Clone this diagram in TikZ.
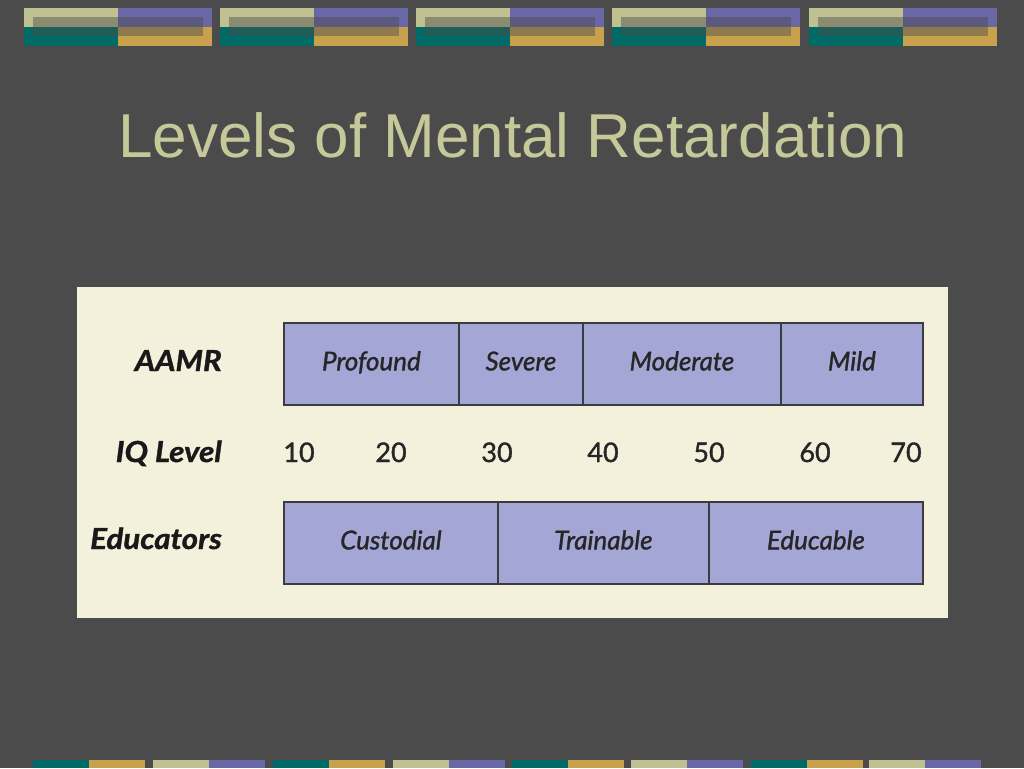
\documentclass[tikz,border=0pt]{standalone}
\usepackage{fontspec}
\setmainfont{Liberation Sans}
\newfontfamily\gill[FakeBold=1.3]{Lato}
\newfontfamily\gillbold[FakeBold=1.2,FakeStretch=1.08]{Lato}
\definecolor{bg}{HTML}{4B4B4B}
\definecolor{khaki}{HTML}{BFC191}
\definecolor{purp}{HTML}{6A67A6}
\definecolor{teal2}{HTML}{006A66}
\definecolor{gold}{HTML}{C7A14B}
\definecolor{panel}{HTML}{F3F1DC}
\definecolor{cellfill}{HTML}{A4A6D6}
\definecolor{cellline}{HTML}{3C3C40}
\definecolor{titlec}{HTML}{C5C899}
\begin{document}
\begin{tikzpicture}[x=1pt,y=-1pt,
 cell/.style={draw=cellline, line width=1.8pt, fill=cellfill, anchor=north west, inner sep=0pt, minimum height=82pt, text height=18pt, text depth=5pt, font=\gill\itshape\fontsize{26}{30}\selectfont, text=black!85},
 rowlabel/.style={anchor=base east, inner sep=0pt, text=black!90, font=\gillbold\bfseries\itshape\fontsize{29}{32}\selectfont},
 iqnum/.style={anchor=base, inner sep=0pt, text=black!85, font=\gill\fontsize{27}{32}\selectfont}]
\fill[bg] (0,0) rectangle (1024,768);
\useasboundingbox (0,0) rectangle (1024,768);
% top decoration
\foreach \x in {24,220,416,612,809} {
  \fill[khaki] (\x,8) rectangle ++(94,19);
  \fill[teal2] (\x,27) rectangle ++(94,19);
  \fill[purp] (\x+94,8) rectangle ++(94,19);
  \fill[gold] (\x+94,27) rectangle ++(94,19);
  \fill[bg, opacity=0.45] (\x+9,17) rectangle ++(170,19);
}
% bottom bar
\foreach \x in {33,273,512,751} {
  \fill[teal2] (\x,760) rectangle ++(56,8);
  \fill[gold] (\x+56,760) rectangle ++(56,8);
}
\foreach \x in {153,393,631,869} {
  \fill[khaki] (\x,760) rectangle ++(56,8);
  \fill[purp] (\x+56,760) rectangle ++(56,8);
}
% title
\node[anchor=base, inner sep=0pt, text=titlec, font=\fontsize{62}{70}\selectfont] (title) at (513,157) {Levels of Mental Retardation};
% panel
\node[fill=panel, anchor=north west, inner sep=0pt, minimum width=871pt, minimum height=331pt] (panel) at (77,287) {};
% row labels
\node[rowlabel] (laamr) at (222,371) {AAMR};
\node[rowlabel] (liq) at (222,462) {IQ Level};
\node[rowlabel] (ledu) at (222,549) {Educators};
% AAMR cells
\node[cell, minimum width=175pt] (prof) at (283,322) {Profound};
\node[cell, minimum width=124pt] (sev) at (458,322) {Severe};
\node[cell, minimum width=198pt] (mod) at (582,322) {Moderate};
\node[cell, minimum width=142pt] (mild) at (780,322) {Mild};
% educator cells
\node[cell, minimum width=214pt] (cust) at (283,501) {Custodial};
\node[cell, minimum width=211pt] (train) at (497,501) {Trainable};
\node[cell, minimum width=214pt] (educ) at (708,501) {Educable};
% IQ numbers
\node[iqnum] (n10) at (299,462) {10};
\node[iqnum] (n20) at (391,462) {20};
\node[iqnum] (n30) at (497,462) {30};
\node[iqnum] (n40) at (603,462) {40};
\node[iqnum] (n50) at (709,462) {50};
\node[iqnum] (n60) at (815,462) {60};
\node[iqnum] (n70) at (906,462) {70};
\end{tikzpicture}
\end{document}
